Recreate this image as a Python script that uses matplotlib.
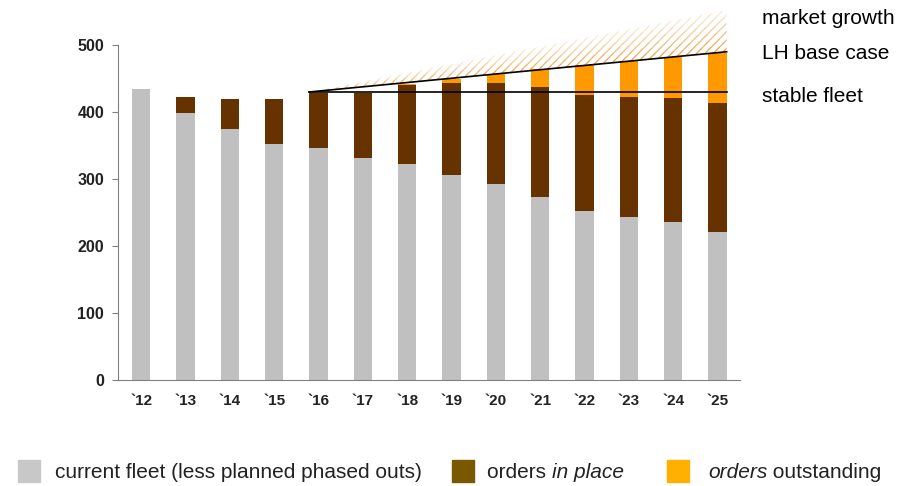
import numpy as np
import matplotlib.pyplot as plt
from matplotlib.patches import Rectangle

plt.rcParams['font.family'] = ['Liberation Sans', 'DejaVu Sans']
plt.rcParams['hatch.linewidth'] = 0.9

# ==============================
# DATA
# ==============================
years = ["`12", "`13", "`14", "`15", "`16", "`17", "`18", "`19", "`20", "`21", "`22", "`23", "`24", "`25"]
current_fleet = [434, 398, 375, 352, 346, 331, 322, 306, 292, 273, 252, 243, 236, 221]
orders_in_place = [0, 24, 44, 68, 83, 97, 118, 137, 151, 164, 173, 179, 185, 193]
orders_outstanding = [0, 0, 0, 0, 0, 0, 2, 7, 14, 27, 45, 54, 61, 74]

stable_fleet = 430
base_start, base_end = 430, 490
market_end = 552

c_grey = '#C0C0C0'
c_brown = '#663300'
c_orange = '#FF9900'

# ==============================
# FIGURE
# ==============================
fig = plt.figure(figsize=(9.01, 4.86), dpi=100)
ax = fig.add_axes([0.131, 0.218, 0.690, 0.772])

x = np.arange(len(years))
w = 0.41
ax.bar(x, current_fleet, w, color=c_grey, zorder=2)
ax.bar(x, orders_in_place, w, bottom=current_fleet, color=c_brown, zorder=2)
bottom2 = np.array(current_fleet) + np.array(orders_in_place)
ax.bar(x, orders_outstanding, w, bottom=bottom2, color=c_orange, zorder=2)

# scenario lines from `16 onwards
x0 = 4 - w / 2
x1 = 13 + w / 2
xs = np.linspace(x0, x1, 50)
base = base_start + (base_end - base_start) * (xs - x0) / (x1 - x0)
market = base_start + (market_end - base_start) * (xs - x0) / (x1 - x0)

# hatched market growth wedge, fading upwards
n_bands = 6
for i in range(n_bands):
    lo = base + (market - base) * i / n_bands
    hi = base + (market - base) * (i + 1) / n_bands
    ax.fill_between(xs, lo, hi, facecolor='none', edgecolor='#EBA040',
                    hatch='////', linewidth=0, alpha=0.95 - 0.14 * i, zorder=1)

ax.plot([x0, x1], [stable_fleet, stable_fleet], color='black', lw=1.2, zorder=3)
ax.plot([x0, x1], [base_start, base_end], color='black', lw=1.2, zorder=3)

ax.set_xlim(-0.52, 13.5)
ax.set_ylim(0, 560)
ax.set_xticks(x)
ax.set_xticklabels(years, fontsize=11, fontweight='bold', color='#222222')
ax.set_yticks(range(0, 501, 100))
ax.set_yticklabels([str(v) for v in range(0, 501, 100)], fontsize=11.5,
                   fontweight='bold', color='#222222')
ax.tick_params(axis='x', length=0, pad=10)
ax.tick_params(axis='y', length=4, width=0.8, color='#808080', pad=6)
for s in ['top', 'right']:
    ax.spines[s].set_visible(False)
ax.spines['left'].set_bounds(0, 500)
ax.spines['left'].set_color('#808080')
ax.spines['bottom'].set_color('#808080')

# scenario labels
fig.text(0.846, 0.962, "market growth", fontsize=15, va='center')
fig.text(0.846, 0.890, "LH base case", fontsize=15, va='center')
fig.text(0.846, 0.802, "stable fleet", fontsize=15, va='center')

# ==============================
# LEGEND (manual, mixed italics)
# ==============================
fig.canvas.draw()
renderer = fig.canvas.get_renderer()


def put_parts(xpix, ypix, parts):
    for txt, style in parts:
        t = fig.text(xpix / 901, 1 - ypix / 486, txt, fontsize=15,
                     style=style, va='center', color='#222222')
        bb = t.get_window_extent(renderer)
        xpix += bb.width


def put_box(xpix, ypix, color):
    fig.patches.append(Rectangle((xpix / 901, 1 - (ypix + 11) / 486), 22 / 901, 22 / 486,
                                 transform=fig.transFigure, color=color))


put_box(18, 471, '#C8C8C8')
put_parts(55, 472, [("current fleet (less planned phased outs)", 'normal')])
put_box(452, 471, '#7A5800')
put_parts(487, 472, [("orders ", 'normal'), ("in place", 'italic')])
put_box(667, 471, '#FFB000')
put_parts(708, 472, [("orders", 'italic'), (" outstanding", 'normal')])

fig.savefig("out.png", dpi=100)
